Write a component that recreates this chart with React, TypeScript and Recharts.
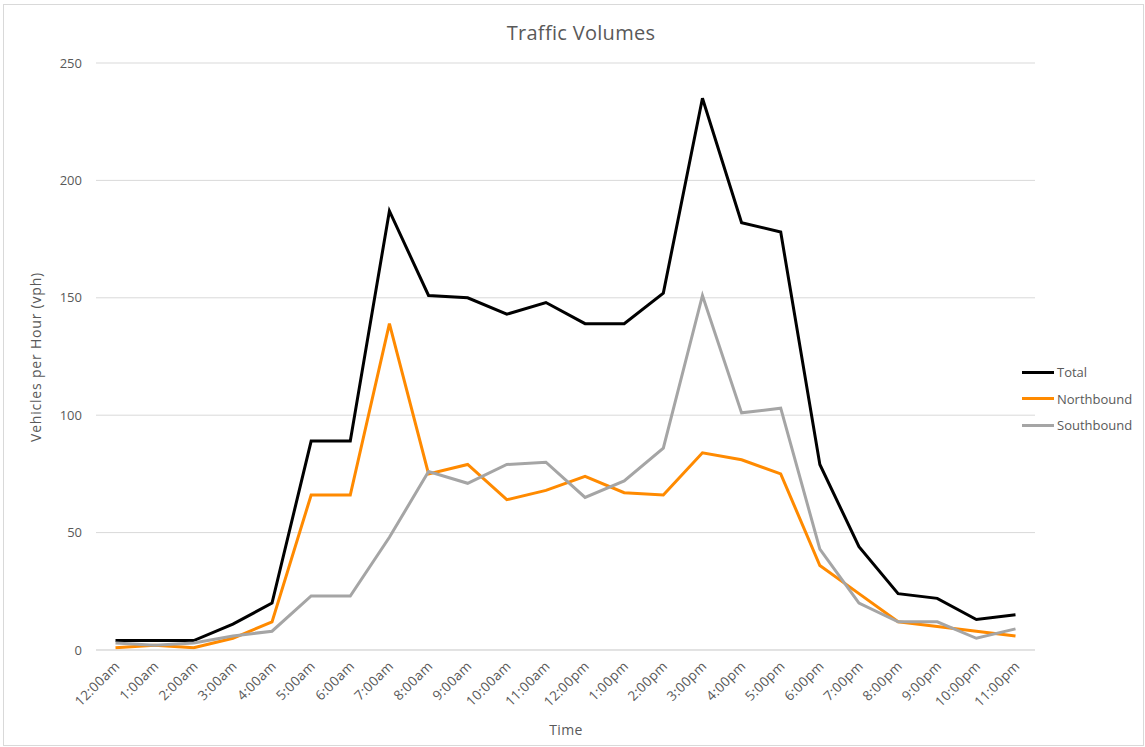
import React from 'react';
import { LineChart, Line, XAxis, YAxis, CartesianGrid } from 'recharts';

// Hourly counts
const hours = [
  '12:00am', '1:00am', '2:00am', '3:00am', '4:00am', '5:00am', '6:00am', '7:00am',
  '8:00am', '9:00am', '10:00am', '11:00am', '12:00pm', '1:00pm', '2:00pm', '3:00pm',
  '4:00pm', '5:00pm', '6:00pm', '7:00pm', '8:00pm', '9:00pm', '10:00pm', '11:00pm',
];
const total = [4, 4, 4, 11, 20, 89, 89, 187, 151, 150, 143, 148, 139, 139, 152, 235, 182, 178, 79, 44, 24, 22, 13, 15];
const northbound = [1, 2, 1, 5, 12, 66, 66, 139, 75, 79, 64, 68, 74, 67, 66, 84, 81, 75, 36, 24, 12, 10, 8, 6];
const southbound = [3, 2, 3, 6, 8, 23, 23, 48, 76, 71, 79, 80, 65, 72, 86, 151, 101, 103, 43, 20, 12, 12, 5, 9];
const yTicks = [0, 50, 100, 150, 200, 250];

const data = hours.map((h, i) => ({
  time: h,
  Total: total[i],
  Northbound: northbound[i],
  Southbound: southbound[i],
}));

const series = [
  { key: 'Total', color: '#000000' },
  { key: 'Northbound', color: '#FF8A00' },
  { key: 'Southbound', color: '#A5A5A5' },
];

const FONT = '"Open Sans", sans-serif';
const GREY_TEXT = '#595959';

const XTick = (props: any) => {
  const { x, y, payload } = props;
  const tx = x + 5;
  const ty = y + 9;
  return (
    <text
      x={tx}
      y={ty}
      textAnchor="end"
      fill={GREY_TEXT}
      fontSize={13.5}
      fontFamily={FONT}
      letterSpacing={0.3}
      transform={`rotate(-45, ${tx}, ${ty})`}
    >
      {payload.value}
    </text>
  );
};

// legend drawn outside the svg so it does not eat plot space
const LegendBox = () => (
  <div
    style={{
      position: 'absolute', left: 1022, top: 359,
      fontFamily: FONT, fontSize: 13, color: GREY_TEXT,
    }}
  >
    {series.map((s) => (
      <div key={s.key} style={{ display: 'flex', alignItems: 'center', height: 26.5 }}>
        <div style={{ width: 32, height: 3, background: s.color, marginRight: 3 }} />
        <span>{s.key}</span>
      </div>
    ))}
  </div>
);

export default function App() {
  return (
    <div style={{ position: 'absolute', left: 0, top: 0, width: 1145, height: 747, background: '#fff' }}>
      <div
        style={{
          position: 'absolute', left: 3, top: 4, width: 1141, height: 742,
          border: '1px solid #D9D9D9', boxSizing: 'border-box',
        }}
      />
      <div
        style={{
          position: 'absolute', left: 0, width: 1162, top: 19, textAlign: 'center',
          fontFamily: FONT, fontSize: 20, color: GREY_TEXT, letterSpacing: 0.3,
        }}
      >
        Traffic Volumes
      </div>
      <div
        style={{
          position: 'absolute', left: 35, top: 357, transform: 'translate(-50%, -50%) rotate(-90deg)',
          whiteSpace: 'nowrap', fontFamily: FONT, fontSize: 14, color: GREY_TEXT, letterSpacing: 0.8,
        }}
      >
        Vehicles per Hour (vph)
      </div>
      <div
        style={{
          position: 'absolute', left: 566, top: 729, transform: 'translate(-50%, -50%)',
          fontFamily: FONT, fontSize: 14, color: GREY_TEXT, letterSpacing: 0.3,
        }}
      >
        Time
      </div>
      <LineChart
        width={1145}
        height={747}
        data={data}
        margin={{ top: 63, right: 110, bottom: 37, left: 56 }}
        style={{ position: 'absolute', left: 0, top: 0 }}
      >
        <CartesianGrid vertical={false} stroke="#D9D9D9" strokeWidth={1} />
        <XAxis
          dataKey="time"
          interval={0}
          tickLine={false}
          axisLine={{ stroke: '#D9D9D9' }}
          tick={<XTick />}
          height={60}
          padding={{ left: 19.5, right: 19.5 }}
        />
        <YAxis
          width={40}
          domain={[0, 250]}
          ticks={yTicks}
          axisLine={false}
          tickLine={false}
          tickMargin={8}
          tick={{ fill: GREY_TEXT, fontSize: 13, fontFamily: FONT }}
        />
        {series.map((s) => (
          <Line
            key={s.key}
            type="linear"
            dataKey={s.key}
            stroke={s.color}
            strokeWidth={3}
            dot={false}
            activeDot={false}
            isAnimationActive={false}
          />
        ))}
      </LineChart>
      <LegendBox />
    </div>
  );
}
